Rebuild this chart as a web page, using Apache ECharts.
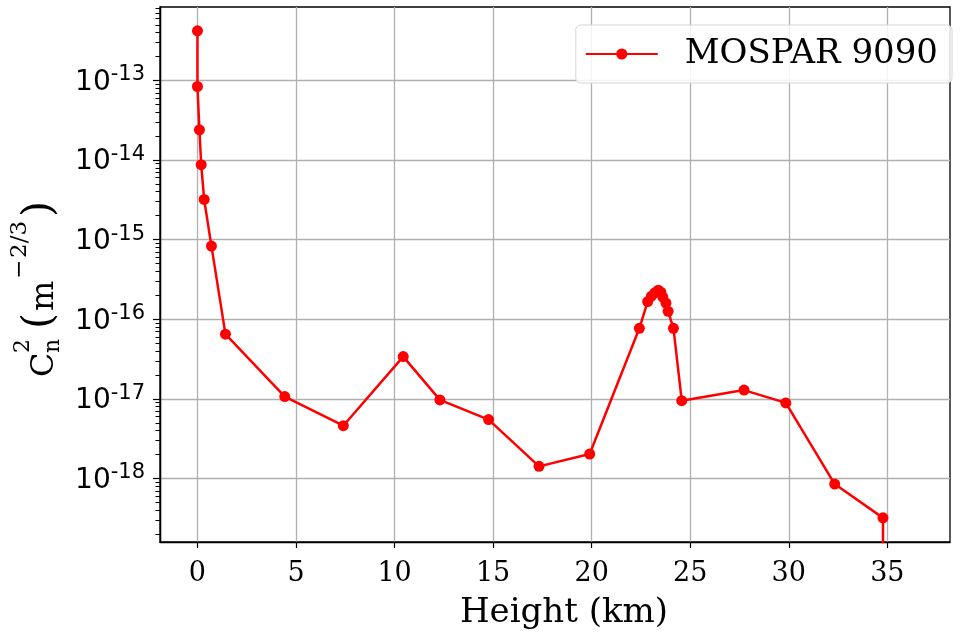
<!DOCTYPE html>
<html>
<head>
  <meta charset="utf-8">
  <title>Cn2 profile</title>
  <script src="https://cdn.jsdelivr.net/npm/echarts@6/dist/echarts.min.js"></script>
  <style type="text/css">
    html, body {
      margin: 0;
      padding: 0;
      background: #fff;
    }

    #chart {
      width: 964px;
      height: 635px;
    }
  </style>
</head>
<body>
<div id="chart"></div>
<script>
  // data
  var seriesName = 'MOSPAR 9090';
  var heightKm = [0, 0, 0.1, 0.19, 0.34, 0.71, 1.42, 4.43, 7.40, 10.44, 12.30, 14.77, 17.33, 19.90,
    22.42, 22.84, 23.03, 23.21, 23.38, 23.51, 23.61, 23.77, 23.88, 24.15, 24.57, 27.73, 29.85, 32.33, 34.78, 34.80];
  var cn2 = [4.2e-13, 8.4e-14, 2.4e-14, 8.75e-15, 3.2e-15, 8.3e-16, 6.5e-17, 1.07e-17, 4.6e-18, 3.4e-17,
    9.7e-18, 5.5e-18, 1.42e-18, 2.03e-18, 7.7e-17, 1.67e-16, 1.95e-16, 2.16e-16, 2.32e-16, 2.19e-16,
    1.9e-16, 1.6e-16, 1.26e-16, 7.7e-17, 9.5e-18, 1.29e-17, 8.9e-18, 8.5e-19, 3.2e-19, 1e-24];
  var xTicks = [0, 5, 10, 15, 20, 25, 30, 35];
  var yDecades = [-18, -17, -16, -15, -14, -13];

  // axis ranges
  var xMin = -1.9, xMax = 38.18;
  var yMinExp = -18.798, yMaxExp = -12.077;

  // minor ticks 2..9 in each decade (raw values for the log axis)
  var yMinor = [];
  for (var d = -19; d <= -13; d++) {
    for (var k = 2; k <= 9; k++) {
      var v = d + Math.log10(k);
      if (v > yMinExp && v < yMaxExp) yMinor.push(k * Math.pow(10, d));
    }
  }

  var points = [];
  for (var i = 0; i < heightKm.length; i++) {
    points.push([heightKm[i], cn2[i]]);
  }

  var serif = 'DejaVu Serif';
  var sans = 'DejaVu Sans';
  var chart = echarts.init(document.getElementById('chart'), null, {renderer: 'canvas'});

  // pieces of the y axis title, along the text direction (bottom to top)
  function t(str, x, y, size) {
    return {
      type: 'text', x: x, y: y,
      style: {text: str, font: size + 'px "DejaVu Serif"', fill: '#000', verticalAlign: 'middle'}
    };
  }

  var option = {
    animation: false,
    backgroundColor: '#fff',
    grid: {
      left: 160,
      right: 14,
      top: 7,
      bottom: 91,
      show: true,
      borderColor: '#000',
      borderWidth: 1.3,
      backgroundColor: 'transparent'
    },
    legend: {
      data: [seriesName],
      right: 12,
      top: 25,
      orient: 'horizontal',
      backgroundColor: 'rgba(255,255,255,0.85)',
      borderColor: '#d6d6d6',
      borderWidth: 1,
      borderRadius: 5,
      padding: [12, 14, 12, 9],
      itemWidth: 72,
      itemHeight: 14,
      textStyle: {
        fontFamily: serif,
        fontSize: 34,
        color: '#000',
        padding: [0, 0, 0, 22]
      }
    },
    xAxis: {
      type: 'value',
      min: xMin,
      max: xMax,
      name: 'Height (km)',
      nameLocation: 'middle',
      nameGap: 71,
      nameTextStyle: {
        fontFamily: serif,
        fontSize: 34,
        color: '#000',
        verticalAlign: 'middle',
        padding: [0, 0, 0, 18]
      },
      axisLine: {onZero: false, lineStyle: {color: '#000', width: 1.3}},
      axisTick: {
        show: true,
        inside: false,
        length: 6,
        customValues: xTicks,
        lineStyle: {color: '#000', width: 1.2}
      },
      axisLabel: {
        customValues: xTicks,
        margin: 18,
        fontFamily: serif,
        fontSize: 27,
        color: '#000'
      },
      splitLine: {show: true, lineStyle: {color: '#b0b0b0', width: 1.3}}
    },
    yAxis: [
      {
        // data axis (log scale), carries the minor ticks
        type: 'log',
        logBase: 10,
        min: Math.pow(10, yMinExp),
        max: Math.pow(10, yMaxExp),
        position: 'left',
        axisLine: {show: true, onZero: false, lineStyle: {color: '#000', width: 1.3}},
        axisTick: {
          show: true,
          length: 4.5,
          customValues: yMinor,
          lineStyle: {color: '#000', width: 1}
        },
        axisLabel: {
          show: true,
          customValues: yMinor,
          formatter: function () {
            return '';
          }
        },
        splitLine: {show: false}
      },
      {
        // major ticks, labels and grid, drawn in log10 space
        type: 'value',
        min: yMinExp,
        max: yMaxExp,
        position: 'left',
        axisLine: {show: true, onZero: false, lineStyle: {color: '#000', width: 1.3}},
        axisTick: {
          show: true,
          length: 7,
          customValues: yDecades,
          lineStyle: {color: '#000', width: 1.2}
        },
        axisLabel: {
          customValues: yDecades,
          margin: 15,
          formatter: function (v) {
            return '{b|10}{s|' + Math.round(v) + '}';
          },
          rich: {
            b: {fontFamily: sans, fontSize: 28, color: '#000', verticalAlign: 'bottom'},
            s: {fontFamily: sans, fontSize: 21, color: '#000', verticalAlign: 'bottom', padding: [0, 0, 11, 0]}
          }
        },
        splitLine: {show: true, lineStyle: {color: '#b0b0b0', width: 1.3}}
      }
    ],
    graphic: [
      {
        // y axis title: C_n^2 (m^{-2/3}), rotated
        type: 'group',
        x: 56,
        y: 377,
        rotation: Math.PI / 2,
        children: [
          t('C', 0, -11.5, 32),
          t('2', 24, -33, 22),
          t('n', 24, -3, 22),
          t('(', 48, -16, 41),
          t('m', 66, -11.5, 32),
          t('\u2212', 98, -36, 23),
          t('2/3', 119, -36, 23),
          t(')', 160, -16, 41)
        ]
      }
    ],
    series: [
      {
        name: seriesName,
        type: 'line',
        xAxisIndex: 0,
        yAxisIndex: 0,
        data: points,
        clip: true,
        symbol: 'circle',
        symbolSize: 11,
        showAllSymbol: true,
        color: '#ff0000',
        lineStyle: {color: '#ff0000', width: 2.5},
        itemStyle: {color: '#ff0000'},
        emphasis: {disabled: true}
      }
    ]
  };

  chart.setOption(option);
</script>
</body>
</html>
